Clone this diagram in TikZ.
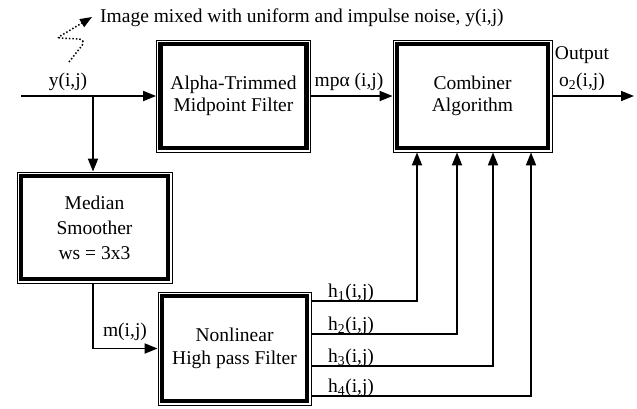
\documentclass[tikz,border=0pt]{standalone}
\usepackage{fontspec}
\setmainfont{Liberation Serif}
\usetikzlibrary{arrows.meta}

\tikzset{
  every node/.style={font=\fontsize{19.5}{22}\selectfont},
  filterbox/.style={draw, line width=0.8pt, inner sep=0pt, align=center,
    path picture={\draw[line width=4.5pt]
      ([shift={(4pt,4pt)}]path picture bounding box.south west) rectangle
      ([shift={(-4pt,-4pt)}]path picture bounding box.north east);}},
  sig/.style={line width=1.8pt, -{Triangle[length=13pt,width=10pt]}},
  lbl/.style={inner sep=0pt}
}

\begin{document}
\begin{tikzpicture}[x=1pt, y=-1pt]
    \useasboundingbox (0,0) rectangle (637,408);

    \coordinate (in) at (21, 96);
    \coordinate (br) at (93, 96);
    \coordinate (out) at (634, 96);
    \coordinate (nz) at (69, 62);
    \coordinate (nt) at (92, 17);

    \node [filterbox, minimum width=154, minimum height=112] (atmf)
    at (233.5, 96) {Alpha-Trimmed\\Midpoint Filter};

    \node [filterbox, minimum width=159, minimum height=112] (comb)
    at (472.5, 96) {Combiner\\Algorithm};

    \node [filterbox, minimum width=155, minimum height=111,
    font=\fontsize{19.5}{25}\selectfont] (med)
    at (94.5, 227.5) {Median\\Smoother\\ws = 3x3};

    \node [filterbox, minimum width=153, minimum height=113,
    font=\fontsize{19.5}{23}\selectfont] (nlhp)
    at (234.5, 348.5) {Nonlinear\\High pass Filter};

    \node [lbl, anchor=west] (note) at (100, 18)
    {Image mixed with uniform and impulse noise, y(i,j)};
    \node [lbl] (ylbl) at (68, 82) {y(i,j)};
    \node [lbl] (mplbl) at (349, 82) {mpα (i,j)};
    \node [lbl] (outlbl) at (582, 55) {Output};
    \node [lbl] (olbl) at (582, 82) {o\textsubscript{2}(i,j)};
    \node [lbl] (mlbl) at (125, 332) {m(i,j)};

    \draw [dotted, line width=1.5pt, rounded corners=3pt,
    -{Triangle[length=12pt,width=9pt]}]
    (nz) -- (84, 43) -- (82, 39) -- (57, 38) -- (nt);

    \draw [sig] (in) -- (atmf.west);
    \draw [sig] (br) -- (br |- med.north);
    \draw [sig] (br |- med.south) |- (nlhp.west);
    \draw [sig] (atmf.east) -- (comb.west);
    \draw [sig] (comb.east) -- (out);

    \foreach \k/\x/\y in {1/417/301, 2/457/334, 3/493/366, 4/531/396} {
      \coordinate (h\k) at (\x, \y);
      \draw [sig] (nlhp.east |- h\k) -| (h\k |- comb.south);
      \node [lbl, anchor=west] (hlbl\k) at (328, \y - 8.5)
      {h\textsubscript{\k}(i,j)};
    }
  \end{tikzpicture}
\end{document}
